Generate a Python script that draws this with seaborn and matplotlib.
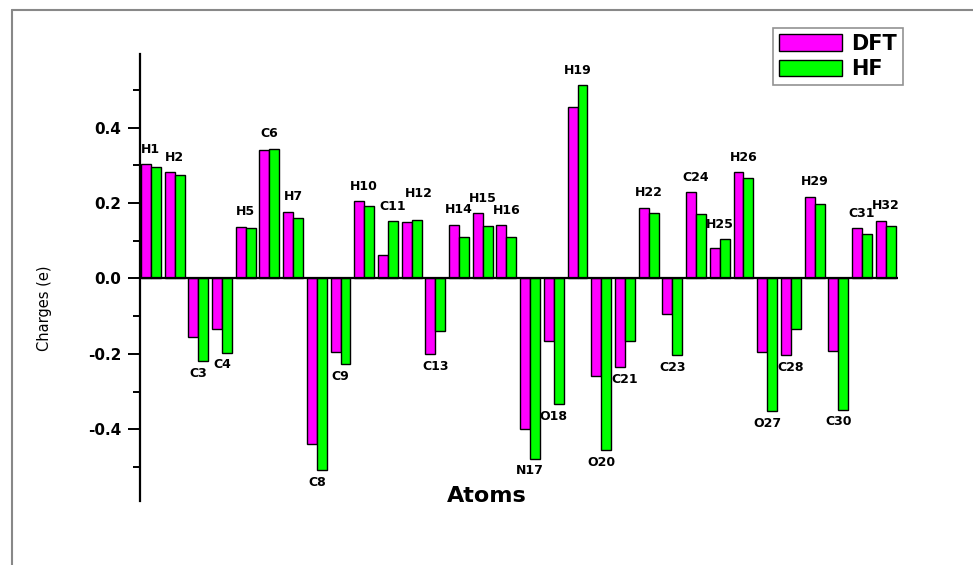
import pandas as pd
import matplotlib
matplotlib.use("Agg")
import matplotlib.pyplot as plt
from matplotlib.lines import Line2D
from matplotlib.ticker import MultipleLocator
import seaborn as sns

atoms = ['H1', 'H2', 'C3', 'C4', 'H5', 'C6', 'H7', 'C8', 'C9', 'H10',
         'C11', 'H12', 'C13', 'H14', 'H15', 'H16', 'N17', 'O18', 'H19', 'O20',
         'C21', 'H22', 'C23', 'C24', 'H25', 'H26', 'O27', 'C28', 'H29', 'C30',
         'C31', 'H32']
dft = [0.303, 0.281, -0.155, -0.134, 0.137, 0.340, 0.177, -0.438, -0.195, 0.205,
       0.061, 0.150, -0.201, 0.143, 0.173, 0.142, -0.400, -0.166, 0.454, -0.259,
       -0.236, 0.188, -0.095, 0.228, 0.080, 0.281, -0.195, -0.204, 0.217, -0.193,
       0.134, 0.153]
hf = [0.296, 0.274, -0.220, -0.198, 0.133, 0.344, 0.160, -0.509, -0.228, 0.192,
      0.152, 0.155, -0.140, 0.111, 0.139, 0.111, -0.478, -0.334, 0.513, -0.456,
      -0.167, 0.173, -0.204, 0.172, 0.105, 0.266, -0.352, -0.133, 0.197, -0.348,
      0.117, 0.139]
methods = ['DFT', 'HF']
colors = {'DFT': '#ff00ff', 'HF': '#00ff00'}

# small nudges (x in category units, y in charge units) so labels don't collide
label_nudge = {'C11': (0.2, 0.0), 'H12': (0.3, 0.03)}


def build_frame():
    """Long format table for seaborn"""
    rows = []
    for name, vals in zip(methods, [dft, hf]):
        for a, v in zip(atoms, vals):
            rows.append({'Atom': a, 'Charge': v, 'Method': name})
    return pd.DataFrame(rows)


def main():
    df = build_frame()
    sns.set_style('white')
    plt.rcParams['font.family'] = ['DejaVu Sans']
    for k in ['text.color', 'axes.labelcolor', 'xtick.color', 'ytick.color']:
        plt.rcParams[k] = 'black'

    fig = plt.figure(figsize=(9.73, 5.65), dpi=100)
    ax = fig.add_axes([140 / 973, 1 - 501 / 565, 758 / 973, 447 / 565])

    sns.barplot(data=df, x='Atom', y='Charge', hue='Method', palette=colors,
                hue_order=methods, order=atoms, width=0.84, edgecolor='black',
                linewidth=1.0, saturation=1, ax=ax)

    ax.axhline(0, color='black', lw=1.6, zorder=5)
    ax.set_xlim(-0.46, len(atoms) - 0.48)
    ax.set_ylim(-0.59, 0.595)

    # atom labels above / below each pair
    for i, a in enumerate(atoms):
        dx, dy = label_nudge.get(a, (0, 0))
        hi = max(dft[i], hf[i])
        lo = min(dft[i], hf[i])
        if hi > 0:
            ax.text(i + dx, hi + 0.022 + dy, a, ha='center', va='bottom',
                    fontsize=9, fontweight='bold')
        else:
            ax.text(i + dx, lo - 0.014 + dy, a, ha='center', va='top',
                    fontsize=9, fontweight='bold')

    for s in ['top', 'right', 'bottom']:
        ax.spines[s].set_visible(False)
    ax.spines['left'].set_linewidth(1.6)
    ax.spines['left'].set_color('black')

    ax.set_xticks([])
    ax.set_yticks([-0.4, -0.2, 0.0, 0.2, 0.4])
    ax.set_yticklabels(['-0.4', '-0.2', '0.0', '0.2', '0.4'],
                       fontsize=11, fontweight='bold')
    ax.yaxis.set_minor_locator(MultipleLocator(0.1))
    ax.tick_params(axis='y', which='major', direction='out', length=8.5,
                   width=1.4, pad=5, left=True)
    ax.tick_params(axis='y', which='minor', direction='out', length=5,
                   width=1.4, left=True)
    ax.set_xlabel('')
    ax.set_ylabel('')

    fig.text(486.5 / 973, 1 - 496 / 565, 'Atoms', ha='center', va='center',
             fontsize=16, fontweight='bold')
    fig.text(44 / 973, 1 - 308 / 565, 'Charges (e)', ha='center', va='center',
             rotation=90, fontsize=10.5)

    handles, labels = ax.get_legend_handles_labels()
    ax.legend(handles, labels, loc='upper left',
              bbox_to_anchor=(773 / 973, 1 - 27.7 / 565),
              bbox_transform=fig.transFigure,
              prop={'weight': 'bold', 'size': 15}, frameon=True, fancybox=False,
              edgecolor='#777777', handlelength=3.0, handleheight=0.85,
              handletextpad=0.45, borderpad=0.3, labelspacing=0.25,
              borderaxespad=0)
    ax.get_legend().get_frame().set_linewidth(1.2)

    # outer gray frame (left and top edges visible)
    fig.add_artist(Line2D([12 / 973, 12 / 973], [0, 1 - 10 / 565],
                          transform=fig.transFigure, color='#888888', lw=1.5))
    fig.add_artist(Line2D([12 / 973, 1], [1 - 10 / 565, 1 - 10 / 565],
                          transform=fig.transFigure, color='#888888', lw=1.5))

    fig.savefig('out.png', dpi=100)
    plt.close(fig)


if __name__ == "__main__":
    main()
